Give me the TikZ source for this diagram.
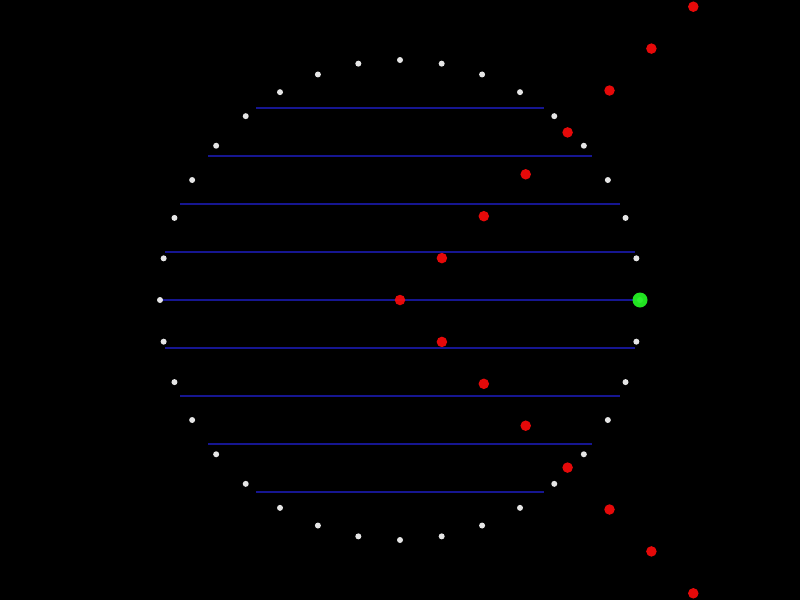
\documentclass[tikz,border=0pt]{standalone}
\usetikzlibrary{calc}
\definecolor{ChordBlue}{RGB}{22,22,145}
\definecolor{HitRed}{RGB}{255,10,10}
\definecolor{ProbeGreen}{RGB}{35,240,35}

\begin{document}
\begin{tikzpicture}[
    x=1pt,y=-1pt,
    rim/.style={circle,fill=white,inner sep=0pt,minimum size=6pt,fill opacity=0.9},
    hit/.style={circle,fill=HitRed,inner sep=0pt,minimum size=10.5pt,fill opacity=0.9},
    probe/.style={circle,fill=ProbeGreen,inner sep=0pt,minimum size=15pt,fill opacity=0.95},
    chord/.style={ChordBlue,line width=2pt}
  ]
    % background
    \fill[black] (0,0) rectangle (800,600);
    \coordinate (o) at (400,300);
    % horizontal chords
    \foreach \k in {-4,...,4} {
      \pgfmathsetmacro\hw{48*sqrt(25-\k*\k)}
      \coordinate (cl\k) at ({400-\hw},{300+48*\k});
      \coordinate (cr\k) at ({400+\hw},{300+48*\k});
      \draw[chord] (cl\k) -- (cr\k);
    }
    % rim of dots
    \foreach \a in {0,10,...,350}
      \node[rim] (r\a) at ($(o)+(\a:240)$) {};
    % red diagonal
    \foreach \k in {-7,...,7}
      \node[hit] (h\k) at ({400+41.9*abs(\k)},{300+41.9*\k}) {};
    \node[probe] (p) at (640,300) {};
\end{tikzpicture}
\end{document}
